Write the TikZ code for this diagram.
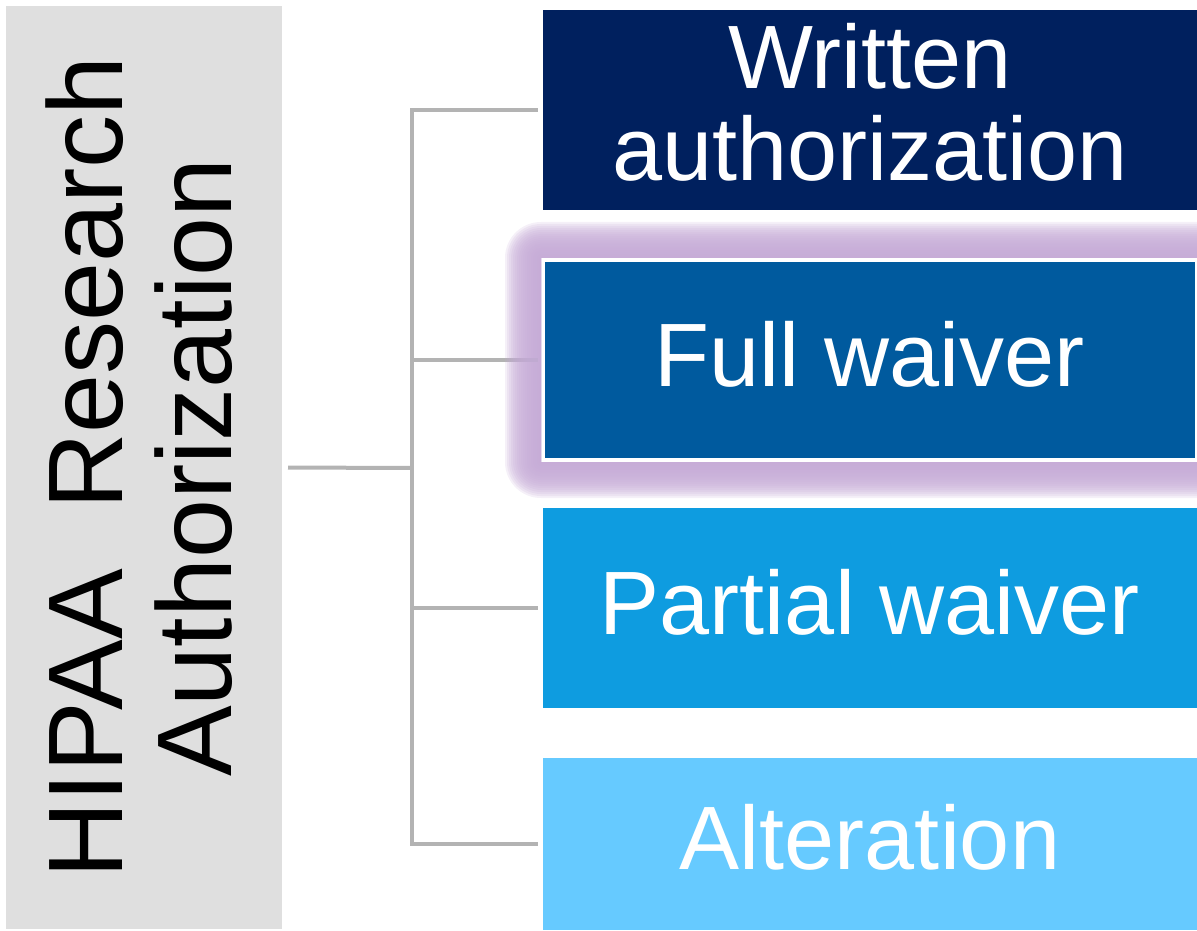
\documentclass[tikz,border=0pt]{standalone}
\usepackage{fontspec}
\setmainfont{Liberation Sans}
\usepackage{xcolor}
\usepackage{tikz}
\usetikzlibrary{positioning}
\definecolor{hrgray}{RGB}{223,223,223}
\definecolor{hrline}{RGB}{179,179,179}
\definecolor{hrnavy}{RGB}{0,32,94}
\definecolor{hrblue}{RGB}{0,90,158}
\definecolor{hrsky}{RGB}{14,156,224}
\definecolor{hrlight}{RGB}{102,202,255}
\definecolor{hrglow}{RGB}{197,170,214}
\tikzset{
  hrhead/.style={fill=hrgray, rotate=90, align=center, inner sep=0pt, outer sep=0pt,
    minimum width=461.5pt, minimum height=138pt, text depth=5pt,
    font=\fontsize{53}{54.5}\selectfont},
  hrbox/.style={fill=#1, text=white, align=center, inner sep=0pt, outer sep=0pt,
    minimum width=327pt, minimum height=100pt, text depth=6pt,
    font=\fontsize{45}{46}\selectfont},
  hrlink/.style={draw=hrline, line width=2pt}
}
\begin{document}
\begin{tikzpicture}[x=0.5pt,y=-0.5pt]
  \useasboundingbox (0,0) rectangle (1197,930);
  \node[hrhead] (hdr) at (144,467.5) {HIPAA\ \ Research\\Authorization};
  \node[hrbox=hrnavy, text depth=8pt] (wa) at (870,110) {Written\\authorization};
  \node[hrbox=hrblue, draw=white, line width=2pt] (fw) at (870,360) {Full waiver};
  \node[hrbox=hrsky] (pw) at (870,608) {Partial waiver};
  \node[hrbox=hrlight, minimum height=86pt, text depth=7pt] (al) at (870,844) {Alteration};
  \coordinate (bus) at (412,468);
  \draw[hrlink, shorten <=3pt] (hdr.south) -- (bus);
  \draw[hrlink, shorten >=2.5pt] (bus) |- (wa);
  \draw[hrlink, shorten >=2.5pt] (bus) |- (fw);
  \draw[hrlink, shorten >=2.5pt] (bus) |- (pw);
  \draw[hrlink, shorten >=2.5pt] (bus) |- (al);
  % glow round the selected box
  \foreach \k in {1,...,18}
    \fill[hrglow, opacity=0.18, even odd rule]
      ([shift={(-1pt-\k pt,1pt+\k pt)}]fw.north west) [rounded corners=\k pt]
        rectangle ([shift={(1pt+\k pt,-1pt-\k pt)}]fw.south east)
      [sharp corners] ([shift={(-1pt,1pt)}]fw.north west)
        rectangle ([shift={(1pt,-1pt)}]fw.south east);
\end{tikzpicture}
\end{document}
